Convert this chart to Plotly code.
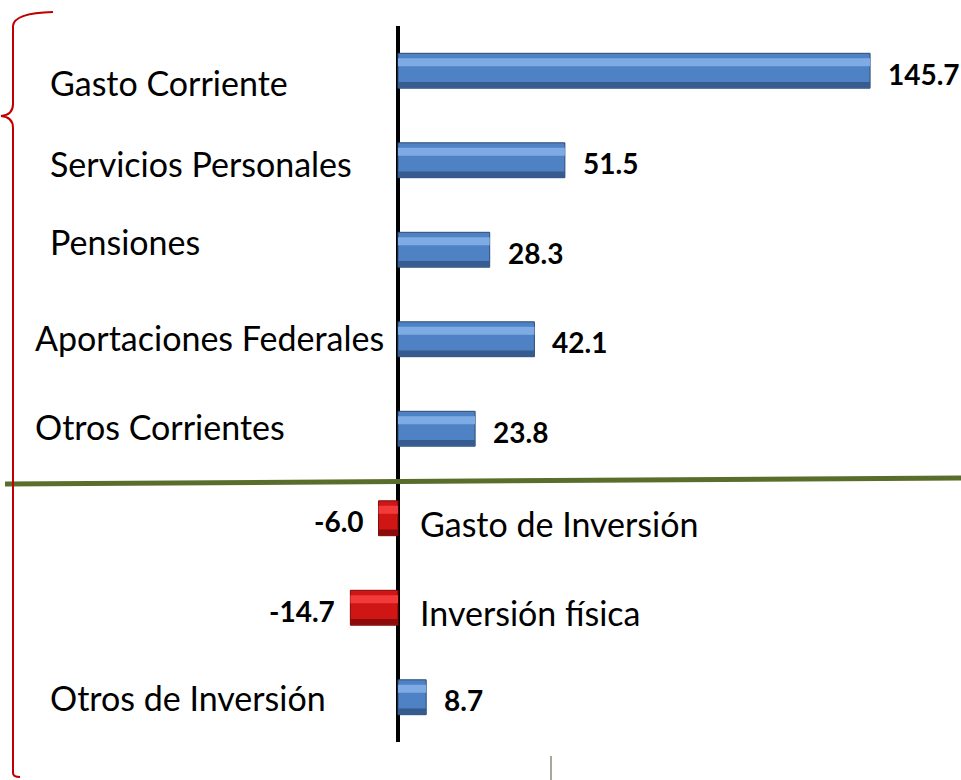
import plotly.graph_objects as go

# ---- data ----
categories = ["Gasto Corriente", "Servicios Personales", "Pensiones",
              "Aportaciones Federales", "Otros Corrientes",
              "Gasto de Inversión", "Inversión física", "Otros de Inversión"]
values = [145.7, 51.5, 28.3, 42.1, 23.8, -6.0, -14.7, 8.7]
value_labels = ["145.7", "51.5", "28.3", "42.1", "23.8", "-6.0", "-14.7", "8.7"]

# ---- layout helpers ----
W, H = 961, 780
ML, MR, MT, MB = 0, 0, 26, 38
PX_PER_UNIT = 3.24
ZERO_PX = 398

def px(x, y):
    """page pixel -> paper coordinates (paper = plot area)"""
    return (x - ML) / (W - ML - MR), (H - MB - y) / (H - MT - MB)

# label anchor (left x, middle y) in pixels
label_pos = [(50, 82), (50, 163), (50, 241), (35, 337), (35, 426),
             (420, 523), (420, 612), (50, 697)]

base_col = ["#4f82c4" if v >= 0 else "#d01515" for v in values]
hi_col = ["#7eabe4" if v >= 0 else "#f23a3a" for v in values]
dk_col = ["#365b8e" if v >= 0 else "#8e0b0b" for v in values]
edge_col = ["#2c4a74" if v >= 0 else "#7a0808" for v in values]

fig = go.Figure()
fig.add_trace(go.Bar(y=categories, x=values, orientation="h", width=0.39,
                     marker=dict(color=base_col, line=dict(color=edge_col, width=1)),
                     hoverinfo="skip"))
fig.add_trace(go.Bar(y=categories, x=values, orientation="h", width=0.09, offset=-0.14,
                     marker=dict(color=hi_col, line=dict(width=0)), hoverinfo="skip"))
fig.add_trace(go.Bar(y=categories, x=values, orientation="h", width=0.065, offset=0.125,
                     marker=dict(color=dk_col, line=dict(width=0)), hoverinfo="skip"))

annotations = []
for cat, v, lab in zip(categories, values, value_labels):
    annotations.append(dict(
        x=v, y=cat, xref="x", yref="y", text=lab, showarrow=False,
        xanchor="left" if v >= 0 else "right", yanchor="middle",
        xshift=16 if v >= 0 else -13, yshift=-3,
        font=dict(family="Lato", size=28, color="black", weight="bold")))
for cat, (lx, ly) in zip(categories, label_pos):
    x0, y0 = px(lx, ly)
    annotations.append(dict(
        x=x0, y=y0, xref="paper", yref="paper", text=cat, showarrow=False,
        xanchor="left", yanchor="middle", xshift=-2,
        font=dict(family="Lato", size=34, color="black")))

shapes = []
# green separator line
gx0, gy0 = px(5, 484)
gx1, gy1 = px(961, 478)
shapes.append(dict(type="line", xref="paper", yref="paper", x0=gx0, y0=gy0, x1=gx1, y1=gy1,
                   line=dict(color="#5a6e2c", width=5)))

# red brace
def P(x, y):
    a, b = px(x, y)
    return f"{a:.5f},{b:.5f}"
path = ("M " + P(53, 12) + " Q " + P(14, 13) + " " + P(13, 26) +
        " L " + P(13, 104) + " Q " + P(13, 115) + " " + P(1, 116) +
        " Q " + P(13, 117) + " " + P(13, 128) +
        " L " + P(13, 773) + " Q " + P(13, 777) + " " + P(20, 777))
shapes.append(dict(type="path", xref="paper", yref="paper", path=path,
                   line=dict(color="#c00000", width=2)))

# small grey vertical line near the bottom
vx, vy0 = px(551, 756)
_, vy1 = px(551, 780)
shapes.append(dict(type="line", xref="paper", yref="paper", x0=vx, x1=vx, y0=vy0, y1=vy1,
                   line=dict(color="#8a8a7a", width=1.5)))

fig.update_layout(
    width=W, height=H,
    margin=dict(l=ML, r=MR, t=MT, b=MB),
    paper_bgcolor="white", plot_bgcolor="white",
    barmode="overlay", showlegend=False, hovermode=False,
    xaxis=dict(range=[-ZERO_PX / PX_PER_UNIT, (W - ZERO_PX) / PX_PER_UNIT],
               showgrid=False, showticklabels=False, ticks="",
               zeroline=True, zerolinecolor="black", zerolinewidth=4,
               layer="above traces"),
    yaxis=dict(autorange="reversed", showgrid=False, showticklabels=False, ticks="",
               zeroline=False),
    annotations=annotations, shapes=shapes,
)

fig.write_html("out.html", config={"displayModeBar": False},
               post_script="document.body.style.margin='0';document.body.style.overflow='hidden';")
